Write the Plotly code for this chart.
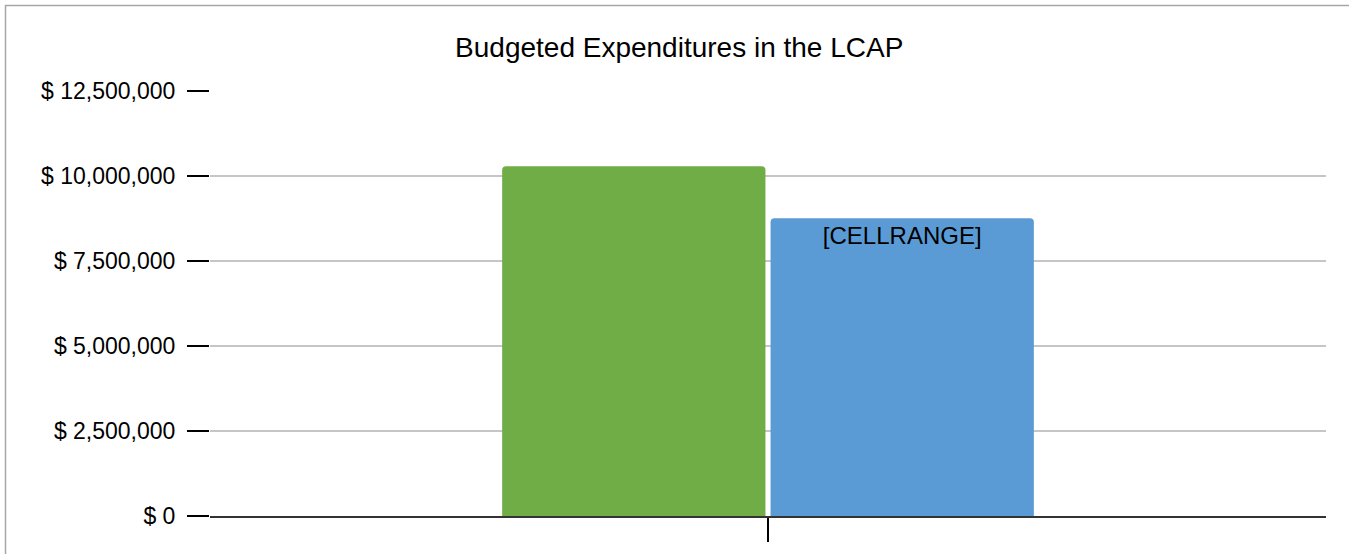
import plotly.graph_objects as go

categories = ["LCAP"]
series_names = ["Total Budgeted Expenditures", "Total Funds Budgeted for Planned Actions"]
series_values = [[10_290_000], [8_760_000]]
series_colors = ["#70AD47", "#5B9BD5"]
series_labels = [[""], ["[CELLRANGE]"]]
y_ticks = [0, 2_500_000, 5_000_000, 7_500_000, 10_000_000, 12_500_000]
y_tick_text = ["$ {:,}".format(v) for v in y_ticks]

fig = go.Figure()
for name, vals, col, lab in zip(series_names, series_values, series_colors, series_labels):
    fig.add_trace(go.Bar(
        x=categories, y=vals, name=name,
        marker=dict(color=col, line=dict(width=0), cornerradius=4),
        text=lab, textposition="inside", insidetextanchor="end",
        textfont=dict(family="Liberation Sans, Arial", size=24, color="#000000"),
        textangle=0, cliponaxis=False,
    ))

fig.update_layout(
    width=1349, height=554,
    margin=dict(l=210, r=23, t=91, b=38),
    paper_bgcolor="white", plot_bgcolor="white",
    barmode="group", bargap=0.519, bargroupgap=0.019,
    showlegend=False,
    font=dict(family="Liberation Sans, Arial", color="#000000"),
    title=dict(text="Budgeted Expenditures in the LCAP", x=0.5035, xanchor="center",
               y=1 - 47 / 554, yanchor="middle",
               font=dict(family="Liberation Sans, Arial", size=28, color="#000000")),
)
fig.update_yaxes(
    range=[0, 12_500_000], tickvals=y_ticks, ticktext=y_tick_text,
    showgrid=True, gridcolor="#C6C6C6", gridwidth=1.5,
    ticks="outside", ticklen=22, tickwidth=2, tickcolor="#000000",
    ticklabelstandoff=7,
    tickfont=dict(family="Liberation Sans, Arial", size=23, color="#000000"),
    zeroline=False, showline=False,
)
fig.update_xaxes(
    showticklabels=False, ticks="outside", ticklen=24, tickwidth=2, tickcolor="#000000",
    showline=True, linecolor="#333333", linewidth=2, showgrid=False,
)
fig.add_shape(type="rect", xref="paper", yref="paper",
              x0=(5.5 - 210) / 1116, x1=1.05, y0=-0.2, y1=(516 - 5.5) / 425,
              line=dict(color="#A6A6A6", width=1.5), fillcolor="rgba(0,0,0,0)", layer="below")
fig.write_html("out.html", config={"displayModeBar": False},
               post_script="document.body.style.margin='0';")
